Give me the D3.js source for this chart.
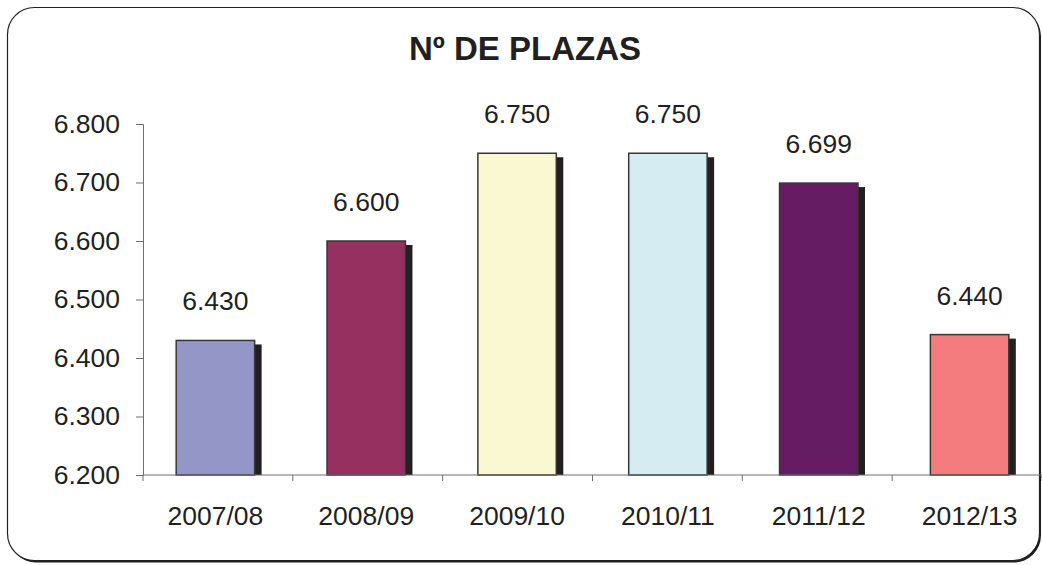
<!DOCTYPE html>
<html>
<head>
    <meta charset="utf-8">
    <title>Nº de plazas</title>
    <script src="https://d3js.org/d3.v7.min.js"></script>
    <style>
        body { margin: 0; background: white; }
        text { font-family: "Liberation Sans", Arial, sans-serif; fill: #231f20; }
    </style>
</head>
<body>
    <div id="chart"></div>
    <script>
        // data
        const categories = ["2007/08", "2008/09", "2009/10", "2010/11", "2011/12", "2012/13"];
        const values = [6430, 6600, 6750, 6750, 6699, 6440];
        const barColors = ["#9596c8", "#963060", "#faf8d0", "#d5ecf3", "#661c63", "#f47b7e"];
        const yTicks = [6200, 6300, 6400, 6500, 6600, 6700, 6800];
        const title = "Nº DE PLAZAS";

        const width = 1042, height = 565;
        const margin = { top: 124, right: 0, bottom: 90, left: 143 };
        const fontSize = 26.5;

        const svg = d3.select("#chart")
            .append("svg")
            .attr("width", width)
            .attr("height", height);

        // spanish number format: 6.430
        const es = d3.formatLocale({ decimal: ",", thousands: ".", grouping: [3], currency: ["", " €"] });
        const fmt = es.format(",");

        // frame with shadow
        svg.append("rect")
            .attr("x", 9).attr("y", 9.5)
            .attr("width", 1032).attr("height", 553)
            .attr("rx", 27)
            .attr("fill", "#231f20");
        svg.append("rect")
            .attr("x", 7.5).attr("y", 7.5)
            .attr("width", 1032).attr("height", 553)
            .attr("rx", 27)
            .attr("fill", "white")
            .attr("stroke", "#231f20")
            .attr("stroke-width", 1.2);

        svg.append("text")
            .attr("x", 525).attr("y", 60)
            .attr("text-anchor", "middle")
            .attr("font-size", 33)
            .attr("font-weight", "bold")
            .text(title);

        const x = d3.scaleBand()
            .domain(categories)
            .range([margin.left, width])
            .paddingInner(0.48)
            .paddingOuter(0.22);

        const y = d3.scaleLinear()
            .domain([6200, 6800])
            .range([height - margin.bottom, margin.top]);

        // y axis
        const yAxis = svg.append("g")
            .attr("transform", `translate(${margin.left},0)`)
            .call(d3.axisLeft(y).tickValues(yTicks).tickFormat(fmt).tickSize(7).tickPadding(16));
        yAxis.select(".domain").attr("stroke", "#6d6e71");
        yAxis.selectAll(".tick line").attr("stroke", "#6d6e71");
        yAxis.selectAll(".tick text")
            .attr("font-size", fontSize)
            .attr("font-family", "Liberation Sans, Arial, sans-serif")
            .attr("fill", "#231f20");

        // x axis: ticks sit between categories
        const x0 = margin.left;
        const boundaries = d3.range(categories.length + 1).map(i => x0 + i * (width - x0) / categories.length);
        const xAxis = svg.append("g");
        xAxis.selectAll("line.tk")
            .data(boundaries)
            .join("line")
            .attr("class", "tk")
            .attr("x1", d => d).attr("x2", d => d)
            .attr("y1", y(6200)).attr("y2", y(6200) + 6)
            .attr("stroke", "#6d6e71");

        xAxis.selectAll("text")
            .data(categories)
            .join("text")
            .attr("x", d => x(d) + x.bandwidth() / 2)
            .attr("y", y(6200) + 50)
            .attr("text-anchor", "middle")
            .attr("font-size", fontSize)
            .text(d => d);

        // bars with offset shadow
        const bars = svg.append("g");
        bars.selectAll("rect.shadow")
            .data(values)
            .join("rect")
            .attr("class", "shadow")
            .attr("x", (d, i) => x(categories[i]) + 7)
            .attr("y", d => y(d) + 4)
            .attr("width", x.bandwidth())
            .attr("height", d => y(6200) - y(d) - 4)
            .attr("fill", "#231f20");

        bars.selectAll("rect.bar")
            .data(values)
            .join("rect")
            .attr("class", "bar")
            .attr("x", (d, i) => x(categories[i]))
            .attr("y", d => y(d))
            .attr("width", x.bandwidth())
            .attr("height", d => y(6200) - y(d))
            .attr("fill", (d, i) => barColors[i])
            .attr("stroke", "#3a3536")
            .attr("stroke-width", 1.5);

        bars.selectAll("text")
            .data(values)
            .join("text")
            .attr("x", (d, i) => x(categories[i]) + x.bandwidth() / 2)
            .attr("y", d => y(d) - 30)
            .attr("text-anchor", "middle")
            .attr("font-size", fontSize)
            .text(d => fmt(d));

        // axis line on top of bar bottoms
        svg.append("line")
            .attr("x1", margin.left).attr("x2", width)
            .attr("y1", y(6200)).attr("y2", y(6200))
            .attr("stroke", "#6d6e71");
    </script>
</body>
</html>
